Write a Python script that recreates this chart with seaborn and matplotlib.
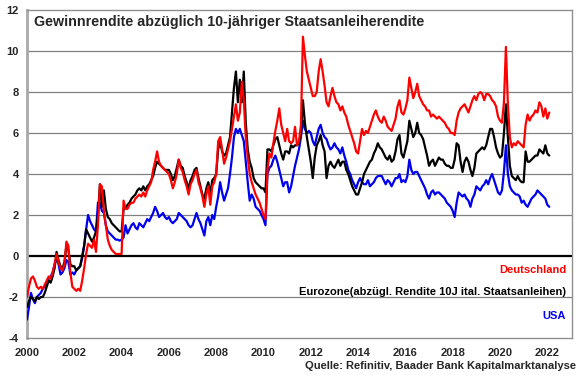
import numpy as np
import pandas as pd
import matplotlib
matplotlib.use("Agg")
import matplotlib.pyplot as plt
import seaborn as sns


# Chart texts
TITLE = "Gewinnrendite abzüglich 10-jähriger Staatsanleiherendite"
SOURCE = "Quelle: Refinitiv, Baader Bank Kapitalmarktanalyse"

NAME_DE = "Deutschland"
NAME_EZ = "Eurozone(abzügl. Rendite 10J ital. Staatsanleihen)"
NAME_US = "USA"

START_MONTH = "2000-01-01"

X_TICKS = list(range(2000, 2023, 2))
Y_TICKS = list(range(-4, 13, 2))

# monthly values, Jan 2000 .. Feb 2022
deutschland = [
    -2.0, -1.5, -1.1, -1.0, -1.2, -1.5, -1.6, -1.5, -1.6, -1.4, -1.2, -1.0,
    -1.1, -0.8, -0.4, 0.1, -0.3, -0.6, -0.7, -0.4, 0.7, 0.5, -0.8, -1.5,
    -1.6, -1.7, -1.6, -1.7, -1.2, -0.6, 0.1, 0.6, 0.5, 0.4, 0.8, 0.2,
    1.5, 3.5, 3.4, 2.2, 1.5, 0.8, 0.5, 0.3, 0.2, 0.1, 0.1, 0.1,
    0.1, 2.7, 2.3, 2.3, 2.5, 2.6, 2.6, 2.8, 2.9, 3.0, 2.9, 3.1,
    2.9, 3.2, 3.4, 3.6, 4.2, 4.6, 5.1, 4.6, 4.4, 4.3, 4.2, 4.1,
    4.0, 3.7, 3.3, 3.6, 4.0, 4.7, 4.3, 4.1, 3.7, 3.4, 3.0, 3.5,
    3.7, 4.0, 4.2, 3.6, 3.3, 2.9, 2.4, 3.0, 3.4, 2.5, 3.4, 3.6,
    4.0, 5.6, 5.8, 5.2, 4.5, 4.8, 5.2, 5.6, 6.2, 6.8, 7.4, 6.6,
    7.0, 8.5, 7.6, 5.8, 4.8, 4.0, 3.6, 3.3, 3.0, 2.8, 2.6, 2.3,
    2.0, 1.8, 4.2, 5.0, 4.8, 5.5, 6.1, 6.6, 7.2, 6.4, 6.0, 5.6,
    6.2, 5.6, 5.5, 5.6, 6.3, 5.4, 5.6, 6.4, 10.7, 9.8, 9.0, 8.6,
    8.2, 7.8, 7.8, 8.0, 9.0, 9.6, 9.0, 8.3, 7.5, 7.3, 7.8, 8.2,
    7.8, 7.5, 7.4, 7.1, 7.3, 7.0, 6.8, 6.4, 6.1, 5.8, 5.5, 5.1,
    5.0, 5.6, 6.2, 5.9, 6.1, 6.0, 6.3, 6.6, 6.9, 7.1, 6.8, 6.6,
    6.5, 6.8, 6.6, 6.3, 6.2, 6.1, 6.4, 6.7, 7.3, 7.6, 7.0, 6.9,
    7.2, 7.6, 8.7, 8.2, 7.7, 8.0, 8.4, 7.8, 7.6, 7.4, 7.3, 7.1,
    7.1, 6.8, 6.9, 6.8, 6.7, 6.8, 6.7, 6.6, 6.5, 6.3, 6.2, 6.0,
    6.0, 5.9, 6.6, 7.0, 7.2, 7.3, 7.4, 7.2, 7.0, 7.3, 7.6, 7.8,
    7.6, 7.9, 8.0, 7.9, 7.6, 7.9, 7.9, 7.8, 7.6, 7.5, 7.3, 6.8,
    6.6, 6.5, 7.5, 10.2, 7.4, 5.8, 5.3, 5.5, 5.4, 5.6, 5.5, 5.4,
    5.3, 6.4, 6.9, 6.6, 6.8, 6.9, 7.1, 7.0, 7.5, 7.3, 6.8, 7.2,
    6.7, 7.0,
]

eurozone = [
    -2.5, -2.2, -2.0, -2.1, -2.2, -2.0, -2.1, -2.0, -2.0, -1.8, -1.5, -1.2,
    -1.3, -1.0, -0.6, 0.2, -0.2, -0.5, -0.6, -0.3, 0.5, 0.3, -0.4, -0.5,
    -0.5, -0.7, -0.6, -0.5, 0.0, 0.5, 1.3, 1.1, 0.9, 0.7, 0.9, 1.2,
    2.0, 3.5, 2.4, 3.2, 2.3, 1.9, 1.8, 1.6, 1.5, 1.4, 1.3, 1.2,
    1.2, 2.3, 2.3, 2.5, 2.6, 2.8, 2.9, 3.0, 3.2, 3.3, 3.2, 3.4,
    3.2, 3.4, 3.5, 3.7, 3.9, 4.3, 4.6, 4.5, 4.4, 4.3, 4.2, 4.2,
    4.2, 4.0, 3.7, 3.9, 4.3, 4.7, 4.4, 4.3, 3.9, 3.6, 3.3, 3.7,
    3.9, 4.2, 4.3, 3.8, 3.4, 3.0, 2.8, 3.3, 3.6, 3.0, 3.7, 3.8,
    4.0, 5.2, 5.6, 5.1, 4.9, 5.0, 5.4, 5.8, 7.0, 8.2, 9.0, 7.5,
    8.6, 7.5, 9.0, 6.5, 5.2, 4.6, 4.3, 3.8, 3.6, 3.5, 3.4, 3.3,
    3.3, 3.1, 5.2, 5.2, 5.1, 5.4, 5.7, 5.8, 5.4, 5.0, 4.7, 5.1,
    5.1, 5.0, 5.4, 5.3, 5.4, 5.4, 5.5, 6.0, 7.6, 6.5, 5.8, 5.2,
    4.6, 3.8, 4.8, 5.4, 5.6, 5.9, 5.4, 5.1, 3.8, 4.4, 4.6, 4.4,
    4.3, 4.5, 4.7, 4.4, 4.6, 4.6, 4.2, 4.0, 3.7, 3.4, 3.2, 3.0,
    3.0, 3.3, 3.6, 4.0, 4.2, 4.4, 4.6, 4.7, 5.0, 5.2, 5.5, 5.3,
    5.2, 5.0, 4.8, 4.7, 4.9, 4.6, 4.7, 5.1, 5.7, 5.9, 5.0, 4.8,
    5.2, 5.6, 6.6, 6.2, 5.8, 6.0, 6.5, 6.0, 5.9, 5.7, 5.3, 4.9,
    4.4, 4.6, 4.7, 4.4, 4.6, 4.8, 4.7, 4.7, 4.5, 4.4, 4.4, 4.3,
    4.3, 4.7, 5.5, 5.4, 4.6, 4.1, 4.6, 4.8, 4.6, 4.2, 3.9, 4.3,
    5.0, 5.1, 5.2, 5.3, 5.2, 5.4, 5.8, 6.2, 6.2, 5.8, 5.3, 5.0,
    4.8, 4.9, 6.0, 7.4, 5.8, 4.4, 3.9, 3.8, 3.7, 3.9, 3.7, 3.6,
    3.6, 5.1, 4.6, 4.6, 4.7, 4.8, 4.9, 4.9, 5.2, 5.1, 5.0, 5.4,
    5.0, 4.9,
]

usa = [
    -3.1, -2.5, -1.8, -2.1, -2.3, -2.0, -1.9, -1.8, -1.6, -1.5, -1.4, -1.1,
    -1.0, -0.8, -0.4, -0.1, -0.4, -0.9, -0.8, -0.6, -0.2, -0.3, -0.9, -0.8,
    -0.9, -0.7, -0.6, -0.5, -0.1, 0.5, 1.3, 2.0, 1.7, 1.5, 1.3, 1.2,
    2.6, 2.6, 2.2, 2.1, 1.5, 1.2, 1.1, 1.0, 0.9, 0.8, 0.8, 0.75,
    0.8, 0.9, 1.5, 1.1, 1.3, 1.5, 1.6, 1.4, 1.3, 1.6, 1.5, 1.4,
    1.6, 1.8, 1.7, 1.9, 2.1, 2.4, 2.2, 1.9, 2.0, 2.1, 1.9, 1.8,
    1.9, 1.7, 1.6, 1.7, 1.8, 2.1, 2.0, 1.9, 1.8, 1.7, 1.5, 1.4,
    1.5, 1.8, 2.1, 1.8, 1.6, 1.3, 1.0, 1.7, 1.9, 1.5, 2.0, 1.8,
    2.4, 2.9, 3.6, 3.1, 2.7, 3.0, 3.3, 4.0, 4.8, 5.8, 6.2, 6.0,
    6.2, 5.9, 5.6, 4.6, 3.6, 2.7, 3.0, 2.8, 2.4, 2.3, 2.2, 2.0,
    1.8, 1.5, 4.0, 4.3, 4.4, 4.7, 4.9, 4.6, 4.2, 3.8, 3.4, 3.6,
    3.6, 3.1, 3.4, 3.9, 4.4, 4.8, 5.2, 5.8, 6.6, 6.2, 6.0, 6.1,
    6.0, 5.6, 5.4, 5.8, 6.2, 6.4, 6.0, 5.8, 5.7, 5.4, 5.2, 5.3,
    5.5, 5.3, 5.2, 5.0, 5.3, 4.9, 4.6, 4.2, 4.0, 3.7, 3.5, 3.3,
    3.6, 3.8, 3.6, 3.5, 3.5, 3.7, 3.4, 3.5, 3.6, 3.8, 3.9, 3.9,
    3.9, 3.7, 3.5, 3.7, 3.6, 3.4, 3.6, 3.8, 3.8, 4.0, 3.6, 3.7,
    3.6, 3.9, 4.7, 4.2, 4.0, 4.1, 4.1, 3.9, 3.7, 3.5, 3.3, 3.0,
    2.8, 3.1, 3.2, 3.0, 3.1, 3.1, 3.0, 2.9, 2.8, 2.6, 2.5, 2.4,
    2.2, 1.9, 2.6, 3.1, 3.0, 2.9, 3.0, 2.8, 2.7, 2.4, 2.8, 3.0,
    3.4, 3.3, 3.2, 3.4, 3.5, 3.7, 3.5, 3.8, 4.0, 3.7, 3.4, 3.1,
    3.0, 3.2, 4.1, 5.4, 4.0, 3.4, 3.2, 3.1, 3.0, 3.0, 2.9, 2.6,
    2.7, 2.5, 2.4, 2.6, 2.8, 2.9, 3.0, 3.2, 3.1, 3.0, 2.9, 2.8,
    2.5, 2.4,
]

COLORS = {NAME_DE: "#ff0000", NAME_EZ: "#000000", NAME_US: "#0000ee"}
DRAW_ORDER = [NAME_US, NAME_EZ, NAME_DE]


def BuildFrame():
    months = pd.date_range(START_MONTH, periods=len(deutschland), freq="MS")
    year = months.year + (months.month - 1) / 12.0

    parts = []
    for name, values in [(NAME_DE, deutschland), (NAME_EZ, eurozone), (NAME_US, usa)]:
        parts.append(pd.DataFrame({"year": year, "value": values, "series": name}))
    return pd.concat(parts, ignore_index=True)


def DrawChart(df):
    sns.set_style("white")
    plt.rcParams["font.family"] = ["Liberation Sans", "DejaVu Sans"]
    plt.rcParams["font.weight"] = "bold"

    fig = plt.figure(figsize=(5.8, 3.75), dpi=100)
    ax = fig.add_axes([27 / 580, 37 / 375, 545 / 580, 328 / 375])

    for y in Y_TICKS[1:-1]:
        if y == 0:
            continue
        ax.axhline(y, color="#808080", lw=0.9, zorder=1)
    ax.axhline(0, color="black", lw=1.6, zorder=1)

    sns.lineplot(data=df, x="year", y="value", hue="series", hue_order=DRAW_ORDER,
                 palette=COLORS, estimator=None, linewidth=1.6, legend=False,
                 ax=ax, zorder=3)

    ax.set_xlim(2000, 2000 + 545 / 23.65)
    ax.set_ylim(-4, 12)
    ax.set_xticks(X_TICKS)
    ax.set_yticks(Y_TICKS)
    ax.set_xticklabels([str(t) for t in X_TICKS])
    ax.set_yticklabels([str(t) for t in Y_TICKS])
    ax.tick_params(axis="x", direction="out", length=4, color="#909090",
                   labelsize=8, pad=3)
    ax.tick_params(axis="y", length=0, labelsize=8, pad=6)
    ax.set_xlabel("")
    ax.set_ylabel("")

    for side in ["top", "right", "bottom"]:
        ax.spines[side].set_color("#909090")
        ax.spines[side].set_linewidth(1.0)
    ax.spines["left"].set_color("#a8a8a8")
    ax.spines["left"].set_linewidth(2.0)

    ax.text(0.013, 0.963, TITLE, transform=ax.transAxes, fontsize=10.3,
            fontweight="bold", ha="left", va="center")

    ax.text(0.989, 0.207, NAME_DE, transform=ax.transAxes, color=COLORS[NAME_DE],
            fontsize=8, fontweight="bold", ha="right", va="center")
    ax.text(0.989, 0.140, NAME_EZ, transform=ax.transAxes, color=COLORS[NAME_EZ],
            fontsize=8, fontweight="bold", ha="right", va="center")
    ax.text(0.989, 0.067, NAME_US, transform=ax.transAxes, color=COLORS[NAME_US],
            fontsize=8, fontweight="bold", ha="right", va="center")

    fig.text(0.993, 0.024, SOURCE, fontsize=8, fontweight="bold",
             ha="right", va="center")

    fig.savefig("out.png", dpi=100)


def main():
    df = BuildFrame()
    DrawChart(df)


if __name__ == "__main__":
    main()
